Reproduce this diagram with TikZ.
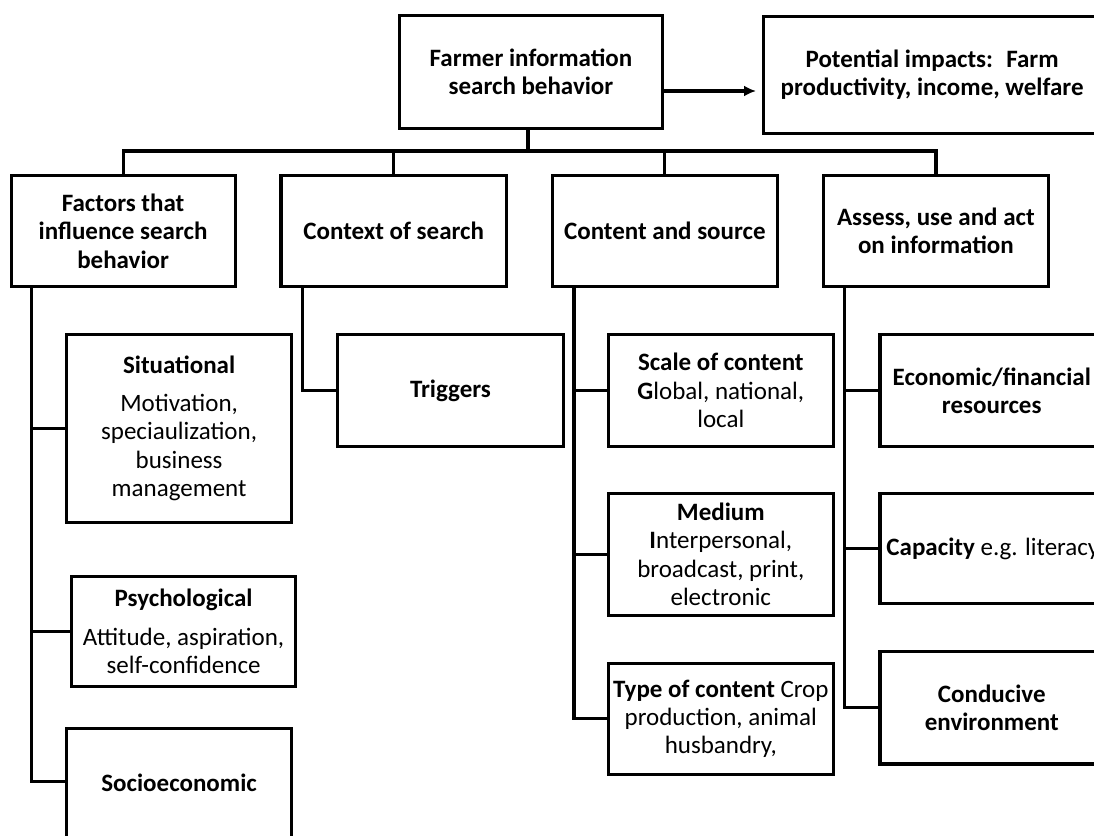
\documentclass[tikz,border=0pt]{standalone}
\usepackage{fontspec}
\setmainfont{Carlito}
\usetikzlibrary{arrows.meta}
\begin{document}
\begin{tikzpicture}[x=1pt,y=-1pt,
  box/.style={draw, line width=3.2pt, anchor=north west, align=center, inner sep=0pt,
    font=\fontsize{25}{28.3}\selectfont},
  hd/.style={font=\fontsize{25}{28.3}\selectfont\bfseries},
  conn/.style={line width=3.2pt}]
\path[use as bounding box] (0,0) rectangle (1094,835);
\clip (0,0) rectangle (1094,835);
% level 1
\node[box, hd, minimum width=263.3, minimum height=112.7] (top) at (397.7,14)
  {Farmer information\\search behavior};
\node[box, minimum width=358, minimum height=117.3] (impact) at (762,14.7)
  {\parbox{337pt}{\centering\bfseries Potential impacts:~ Farm\\productivity, income, welfare}\hspace*{21pt}};
% level 2
\node[box, hd, minimum width=224, minimum height=111] (fac) at (9.5,174)
  {Factors that\\influence search\\behavior};
\node[box, hd, minimum width=225.7, minimum height=111] (ctx) at (279.3,174)
  {Context of search};
\node[box, hd, minimum width=224.5, minimum height=111] (cnt) at (551,174)
  {Content and source};
\node[box, hd, minimum width=224.6, minimum height=111] (ass) at (822,174)
  {Assess, use and act\\on information};
% level 3 - factors
\node[box, minimum width=225, minimum height=188] (sit) at (65,332.7)
  {\textbf{Situational}\\[10pt]Motivation,\\speciaulization,\\business\\management};
\node[box, minimum width=224, minimum height=110] (psy) at (70,575)
  {\textbf{Psychological}\\[10.5pt]Attitude, aspiration,\\self-confidence};
\node[box, hd, minimum width=225, text height=59.3pt, text depth=76pt, inner ysep=4pt] (soc) at (65,726.7)
  {Socioeconomic};
% context
\node[box, hd, minimum width=225.7, minimum height=112.3] (trg) at (336,332.7)
  {Triggers};
% content
\node[box, minimum width=225, minimum height=112.3] (scl) at (606.7,332.7)
  {\textbf{Scale of content}\\\textbf{G}lobal, national,\\local};
\node[box, minimum width=225, minimum height=122.3] (med) at (606.7,491.7)
  {\textbf{Medium}\\\textbf{I}nterpersonal,\\broadcast, print,\\electronic};
\node[box, minimum width=225, minimum height=111] (typ) at (606.7,661.7)
  {\textbf{Type of content} Crop\\production, animal\\husbandry,};
% assess
\node[box, minimum width=241.7, minimum height=112.3] (eco) at (878.3,332.7)
  {\parbox{223.4pt}{\centering\bfseries Economic/financial\\resources}\hspace*{18pt}};
\node[box, minimum width=241.7, minimum height=110, align=left] (cap) at (878.3,492)
  {\hspace*{4.2pt}\textbf{Capacity} e.g. literacy\hspace*{20pt}};
\node[box, minimum width=241.7, minimum height=112.6] (cnd) at (878.3,649.7)
  {\parbox{223.4pt}{\centering\bfseries Conducive\\environment}\hspace*{18pt}};
% coordinates
\coordinate (bus) at (528,151);
\coordinate (arr) at (0,91);
\coordinate (fx) at (31.7,0);
\coordinate (cx) at (302.7,0);
\coordinate (nx) at (574,0);
\coordinate (ax) at (844.6,0);
\coordinate (socy) at (0,781.7);
% connectors level 1-2
\draw[conn, -{Latex[length=12pt,width=11pt]}, shorten >=6pt] (top.east |- arr) -- (impact.west |- arr);
\draw[conn] (top.south -| bus) -- (bus);
\draw[conn] (fac.north) -- (fac.north |- bus) -- (ass.north |- bus) -- (ass.north);
\draw[conn] (ctx.north) -- (ctx.north |- bus);
\draw[conn] (cnt.north) -- (cnt.north |- bus);
% factors spine
\draw[conn] (fac.south -| fx) -- (fx |- socy) -- (soc.west |- socy);
\draw[conn] (fx |- sit.west) -- (sit.west);
\draw[conn] (fx |- psy.west) -- (psy.west);
% context spine
\draw[conn] (ctx.south -| cx) |- (trg.west);
% content spine
\draw[conn] (cnt.south -| nx) |- (typ.west);
\draw[conn] (nx |- scl.west) -- (scl.west);
\draw[conn] (nx |- med.west) -- (med.west);
% assess spine
\draw[conn] (ass.south -| ax) |- (cnd.west);
\draw[conn] (ax |- eco.west) -- (eco.west);
\draw[conn] (ax |- cap.west) -- (cap.west);
\end{tikzpicture}
\end{document}
